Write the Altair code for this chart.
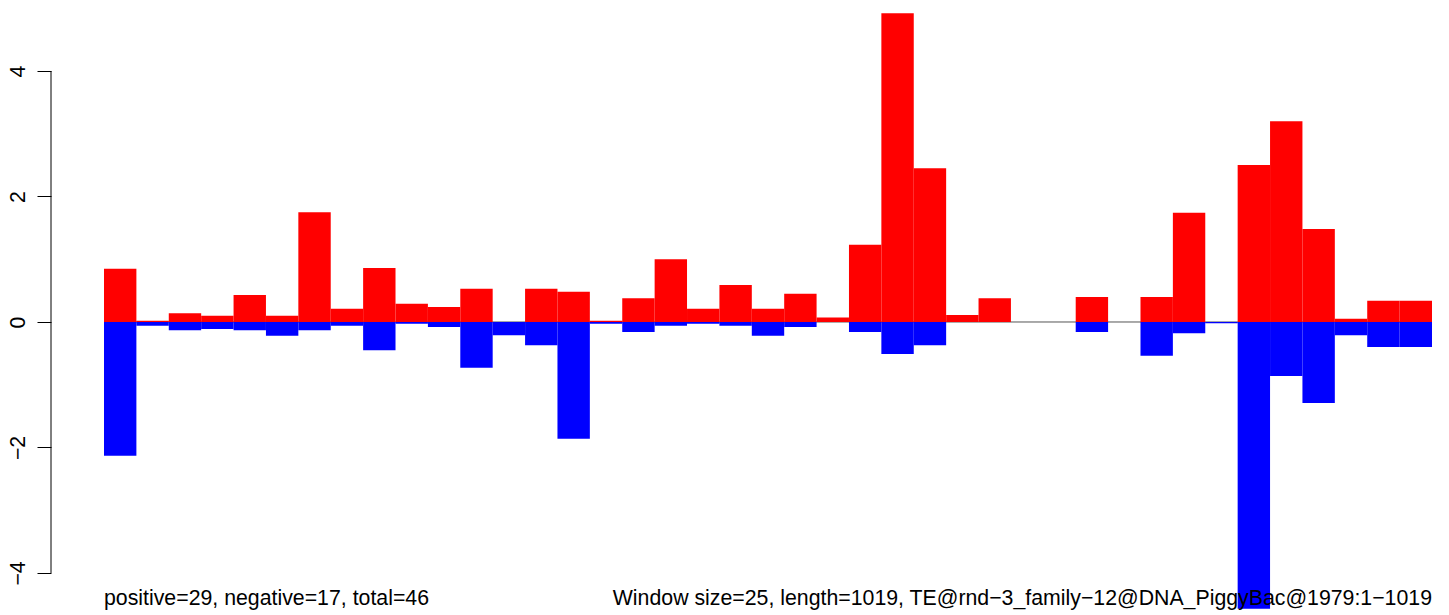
import altair as alt
import pandas as pd

# window index values (25 bp windows over a 1019 bp element)
window_size = 25
positive = [0.85, 0.02, 0.14, 0.10, 0.43, 0.10, 1.75, 0.21, 0.86, 0.29, 0.24, 0.53, 0.00, 0.53,
            0.48, 0.02, 0.38, 1.00, 0.21, 0.59, 0.21, 0.45, 0.07, 1.23, 4.92, 2.45, 0.11, 0.38,
            0.00, 0.00, 0.40, 0.00, 0.40, 1.74, 0.00, 2.50, 3.20, 1.48, 0.05, 0.34, 0.34]
negative = [-2.13, -0.06, -0.13, -0.11, -0.13, -0.22, -0.13, -0.06, -0.45, -0.03, -0.08, -0.73,
            -0.21, -0.37, -1.86, -0.03, -0.16, -0.06, -0.03, -0.06, -0.22, -0.08, 0.00, -0.16,
            -0.51, -0.37, 0.00, 0.00, 0.00, 0.00, -0.16, 0.00, -0.54, -0.18, -0.02, -4.57,
            -0.86, -1.29, -0.21, -0.40, -0.40]
y_ticks = [-4, -2, 0, 2, 4]
left_note = "positive=29, negative=17, total=46"
right_note = "Window size=25, length=1019, TE@rnd\u22123_family\u221212@DNA_PiggyBac@1979:1\u22121019"

n = len(positive)
rows = []
for i in range(n):
    rows.append({"start": i * window_size, "end": (i + 1) * window_size,
                 "value": positive[i], "kind": "pos"})
    rows.append({"start": i * window_size, "end": (i + 1) * window_size,
                 "value": negative[i], "kind": "neg"})
df = pd.DataFrame(rows)

W, H = 1328, 600
x_dom = [0, n * window_size]
y_dom = [-4.590, 4.972]
FONT = "Liberation Sans"
FS = 21.3

xs = alt.Scale(domain=x_dom, nice=False, zero=False)
ys = alt.Scale(domain=y_dom, nice=False, zero=False)

y_axis = alt.Axis(values=y_ticks, domain=False, grid=False, offset=53,
                  tickSize=14, tickColor="black", tickWidth=1,
                  labelAngle=270, labelAlign="center", labelBaseline="alphabetic",
                  labelPadding=13, labelFont=FONT, labelFontSize=FS,
                  labelColor="black", title=None,
                  labelExpr="replace(datum.label, '-', '\u2212')")

zero_df = pd.DataFrame({"x0": [x_dom[0]], "x1": [x_dom[1]], "y": [0.0]})
zero_line = alt.Chart(zero_df).mark_rule(color="#555555", strokeWidth=1).encode(
    x=alt.X("x0:Q", scale=xs, axis=None),
    x2="x1:Q",
    y=alt.Y("y:Q", scale=ys, axis=y_axis),
)

bars = alt.Chart(df).mark_rect(stroke=None).encode(
    x=alt.X("start:Q", scale=xs, axis=None),
    x2="end:Q",
    y=alt.Y("value:Q", scale=ys, axis=y_axis),
    y2=alt.datum(0),
    color=alt.Color("kind:N", scale=alt.Scale(domain=["pos", "neg"], range=["#ff0000", "#0000ff"]),
                    legend=None),
)

axis_df = pd.DataFrame({"lo": [y_ticks[0]], "hi": [y_ticks[-1]]})
axis_line = alt.Chart(axis_df).mark_rule(color="black", strokeWidth=1).encode(
    x=alt.value(-53),
    y=alt.Y("lo:Q", scale=ys, axis=y_axis),
    y2="hi:Q",
)

txt_df = pd.DataFrame({"left": [left_note], "right": [right_note]})
left_text = alt.Chart(txt_df).mark_text(
    align="left", baseline="alphabetic", font=FONT, fontSize=FS, color="black"
).encode(x=alt.value(0), y=alt.value(595), text="left:N")
right_text = alt.Chart(txt_df).mark_text(
    align="right", baseline="alphabetic", font=FONT, fontSize=FS, color="black"
).encode(x=alt.value(W), y=alt.value(595), text="right:N")

chart = alt.layer(zero_line, bars, axis_line, left_text, right_text).properties(
    width=W, height=H,
    autosize=alt.AutoSizeParams(type="none"),
    padding={"left": 96, "top": 2, "right": 9, "bottom": 5},
    background="white",
).configure_view(stroke=None)

chart.save("out.html", embed_options={"renderer": "svg", "actions": False})
